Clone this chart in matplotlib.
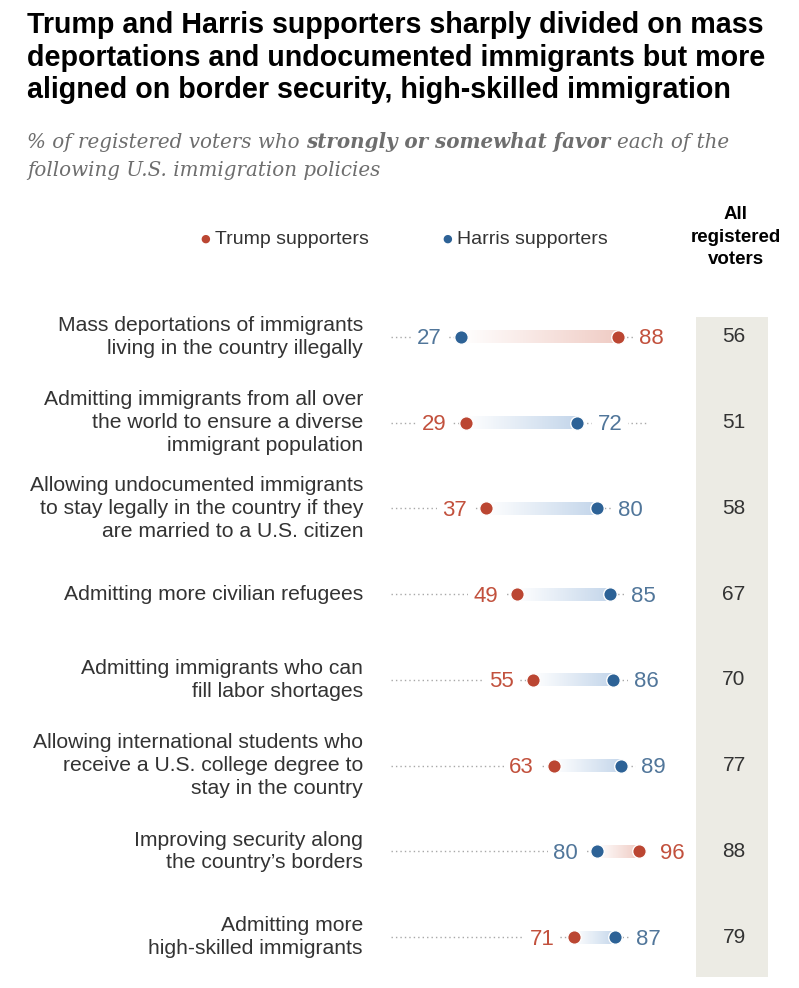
import numpy as np
import matplotlib.pyplot as plt
from matplotlib.patches import Rectangle
import matplotlib.transforms as mtransforms

# data
policies = [
    "Mass deportations of immigrants\nliving in the country illegally",
    "Admitting immigrants from all over\nthe world to ensure a diverse\nimmigrant population",
    "Allowing undocumented immigrants\nto stay legally in the country if they\nare married to a U.S. citizen",
    "Admitting more civilian refugees",
    "Admitting immigrants who can\nfill labor shortages",
    "Allowing international students who\nreceive a U.S. college degree to\nstay in the country",
    "Improving security along\nthe country\u2019s borders",
    "Admitting more\nhigh-skilled immigrants",
]
trump = [88, 29, 37, 49, 55, 63, 96, 71]
harris = [27, 72, 80, 85, 86, 89, 80, 87]
all_voters = [56, 51, 58, 67, 70, 77, 88, 79]

RED = "#bb4632"
RED_TXT = "#c2513d"
BLUE = "#2d6296"
BLUE_TXT = "#51769a"
RED_LIGHT = np.array([0.94, 0.80, 0.77])
BLUE_LIGHT = np.array([0.77, 0.84, 0.92])
TXT = "#333333"
SANS = "Liberation Sans"
SERIF = "DejaVu Serif"

W, H = 799, 988
fig = plt.figure(figsize=(W / 100, H / 100), dpi=100)
renderer = fig.canvas.get_renderer()


def fx(x):
    return x / W


def fy(y):
    return 1 - y / H


def width_px(t):
    return t.get_window_extent(renderer).width


# title, sized so the first line spans the same width as the original
title_lines = ["Trump and Harris supporters sharply divided on mass",
               "deportations and undocumented immigrants but more",
               "aligned on border security, high-skilled immigration"]
t = fig.text(0, 0, title_lines[0], fontsize=20, fontweight="bold", family=SANS)
tsize = 20 * 736 / width_px(t)
t.remove()
for k, line in enumerate(title_lines):
    fig.text(fx(27), fy(33 + 32.5 * k), line, fontsize=tsize, fontweight="bold",
             family=SANS, va="baseline", color="black")

# subtitle with bold-italic middle part, fitted to the original line width
sub_parts = [("% of registered voters who", "normal"),
             ("strongly or somewhat favor", "bold"),
             ("each of the", "normal")]
probe = [fig.text(0, 0, s, fontsize=15, style="italic", weight=w, family=SERIF)
         for s, w in sub_parts]
sp = fig.text(0, 0, "a a", fontsize=15, style="italic", family=SERIF)
sp2 = fig.text(0, 0, "aa", fontsize=15, style="italic", family=SERIF)
space = width_px(sp) - width_px(sp2)
total = sum(width_px(p) for p in probe) + 2 * space
ssize = 15 * 703 / total
for p in probe + [sp, sp2]:
    p.remove()
x = 27
for s, w in sub_parts:
    tt = fig.text(fx(x), fy(148), s, fontsize=ssize, style="italic", weight=w,
                  family=SERIF, color="#6e6e6e", va="baseline")
    x += width_px(tt) + space * ssize / 15
fig.text(fx(27), fy(176), "following U.S. immigration policies", fontsize=ssize,
         style="italic", family=SERIF, color="#6e6e6e", va="baseline")

# legend
fig.text(fx(205), fy(239), "\u25cf", color=RED, fontsize=8, ha="center", va="center", family="DejaVu Sans")
fig.text(fx(215), fy(239), "Trump supporters", color=TXT, fontsize=14, va="center", family=SANS)
fig.text(fx(447), fy(239), "\u25cf", color=BLUE, fontsize=8, ha="center", va="center", family="DejaVu Sans")
fig.text(fx(457), fy(239), "Harris supporters", color=TXT, fontsize=14, va="center", family=SANS)

# column header
fig.text(fx(736), fy(237), "All\nregistered\nvoters", fontsize=13.5, fontweight="bold",
         ha="center", va="center", family=SANS, linespacing=1.4)

# shaded column for all registered voters
fig.patches.append(Rectangle((fx(696), fy(977)), (768 - 696) / W, (977 - 317) / H,
                             transform=fig.transFigure, facecolor="#ecebe4",
                             edgecolor="none", zorder=-5))

# dot chart axes: x 0..100 maps onto pixels 391..649
ax = fig.add_axes([fx(391), fy(980), (649 - 391) / W, (980 - 294) / H])
ax.set_facecolor("none")
rows = np.arange(len(policies))

for i in rows:
    ax.plot([0, 100], [i, i], linestyle=(0, (1, 2.2)), color="#a8a8a8", lw=1, zorder=1)
    lo, hi = sorted([trump[i], harris[i]])
    end = RED_LIGHT if trump[i] > harris[i] else BLUE_LIGHT
    f = np.linspace(0, 1, 256)[:, None]
    grad = (1 - f) * np.ones(3) + f * end
    ax.imshow(grad[None, :, :], extent=(lo, hi, i + 0.075, i - 0.075),
              aspect="auto", interpolation="bilinear", zorder=2)

ax.scatter(trump, rows, s=95, color=RED, edgecolor="white", linewidth=1, zorder=3)
ax.scatter(harris, rows, s=95, color=BLUE, edgecolor="white", linewidth=1, zorder=3)

box = dict(facecolor="white", edgecolor="none", pad=4)
for i in rows:
    pairs = sorted([(trump[i], RED_TXT), (harris[i], BLUE_TXT)])
    (lv, lc), (rv, rc) = pairs
    ax.annotate(str(lv), (lv, i), xytext=(-14, -1.5), textcoords="offset points",
                ha="right", va="center", fontsize=16, color=lc, family=SANS,
                bbox=box, zorder=4)
    ax.annotate(str(rv), (rv, i), xytext=(15, -1.5), textcoords="offset points",
                ha="left", va="center", fontsize=16, color=rc, family=SANS,
                bbox=box, zorder=4)

# policy labels and all-voter values, positioned on the row scale
lab_tr = mtransforms.blended_transform_factory(fig.transFigure, ax.transData)
for i in rows:
    ax.text(fx(363), i, policies[i], transform=lab_tr, ha="right", va="center",
            fontsize=15.2, color=TXT, family=SANS, linespacing=1.25)
    ax.text(fx(734), i, str(all_voters[i]), transform=lab_tr, ha="center",
            va="center", fontsize=15, color=TXT, family=SANS)

ax.set_xlim(0, 100)
ax.set_ylim(len(policies) - 0.5, -0.5)
ax.axis("off")

fig.savefig("out.png", dpi=100)
